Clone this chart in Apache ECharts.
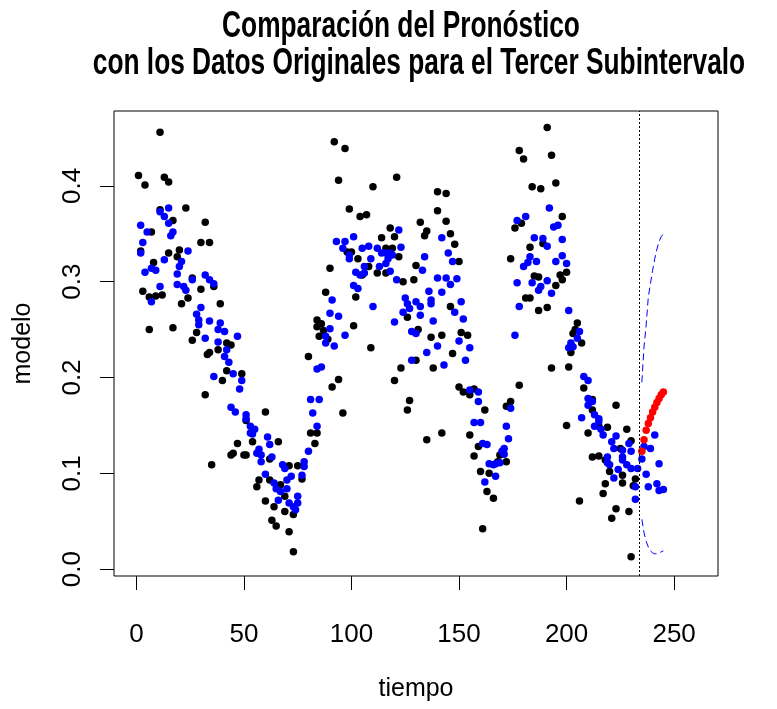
<!DOCTYPE html>
<html>
<head>
<meta charset="utf-8">
<script src="https://cdn.jsdelivr.net/npm/echarts@6/dist/echarts.min.js"></script>
<style>
  html, body { margin: 0; padding: 0; background: #fff; }
  #chart { width: 777px; height: 709px; }
</style>
</head>
<body>
<div id="chart"></div>
<script>
// Serie original observada: [tiempo, valor]
const observados = [
  [1,0.411],[2,0.332],[3,0.290],[4,0.401],[6,0.284],[6,0.250],[7,0.352],[8,0.320],[9,0.285],
  [11,0.456],[11,0.375],[12,0.286],[13,0.409],[15,0.404],[15,0.330],[17,0.364],[17,0.252],
  [19,0.326],[20,0.333],[21,0.277],[23,0.377],[24,0.283],[26,0.304],[26,0.239],[28,0.247],
  [30,0.292],[30,0.341],[32,0.182],[32,0.362],[33,0.224],[34,0.341],[34,0.226],[35,0.109],
  [36,0.295],[38,0.229],[39,0.277],[40,0.197],[42,0.236],[42,0.207],[44,0.119],[44,0.234],
  [45,0.121],[47,0.131],[49,0.204],[50,0.119],[51,0.155],[51,0.119],[54,0.133],[56,0.086],
  [57,0.093],[60,0.071],[60,0.164],[62,0.093],[62,0.115],[63,0.051],[64,0.065],[65,0.045],
  [66,0.133],[67,0.088],[69,0.076],[69,0.060],[71,0.039],[71,0.108],[73,0.018],[73,0.057],
  [75,0.108],[77,0.094],[80,0.222],[81,0.142],[83,0.131],[84,0.260],[84,0.142],[84,0.253],
  [85,0.243],[86,0.256],[87,0.249],[88,0.289],[89,0.240],[90,0.314],[91,0.190],[92,0.446],
  [94,0.198],[94,0.406],[96,0.163],[97,0.439],[98,0.331],[99,0.376],[100,0.331],[101,0.254],
  [102,0.284],[103,0.324],[104,0.368],[105,0.307],[107,0.370],[108,0.316],[109,0.231],
  [110,0.399],[112,0.309],[114,0.346],[116,0.335],[116,0.309],[118,0.356],[119,0.335],
  [120,0.197],[120,0.347],[121,0.409],[122,0.326],[123,0.210],[124,0.300],[126,0.263],
  [126,0.166],[127,0.176],[129,0.302],[130,0.218],[130,0.317],[131,0.250],[132,0.362],
  [134,0.348],[135,0.135],[135,0.353],[137,0.242],[138,0.210],[140,0.374],[140,0.394],
  [142,0.244],[142,0.142],[144,0.392],[144,0.363],[146,0.274],[146,0.350],[147,0.225],
  [148,0.339],[150,0.190],[150,0.321],[151,0.247],[152,0.185],[154,0.244],[155,0.140],
  [155,0.182],[157,0.118],[157,0.188],[159,0.128],[160,0.102],[161,0.042],[162,0.166],
  [163,0.081],[164,0.100],[166,0.074],[168,0.112],[169,0.119],[172,0.112],[172,0.170],
  [174,0.175],[174,0.324],[176,0.356],[178,0.192],[178,0.437],[179,0.361],[180,0.428],
  [181,0.283],[183,0.336],[183,0.283],[184,0.399],[185,0.306],[187,0.270],[187,0.305],
  [188,0.397],[189,0.340],[191,0.273],[191,0.461],[193,0.210],[193,0.432],[195,0.296],
  [195,0.403],[197,0.307],[198,0.368],[198,0.302],[200,0.150],[200,0.310],[201,0.211],
  [202,0.226],[203,0.246],[204,0.250],[205,0.257],[206,0.071],[207,0.236],[208,0.189],
  [210,0.142],[212,0.177],[212,0.117],[212,0.166],[215,0.149],[215,0.118],[217,0.079],
  [218,0.114],[218,0.089],[219,0.148],[220,0.102],[221,0.053],[223,0.063],[223,0.171],
  [225,0.126],[226,0.090],[226,0.098],[228,0.146],[229,0.060],[230,0.134],[230,0.013],
  [231,0.087],[232,0.094]
];

// Valores ajustados por el modelo: [tiempo, valor]
const ajustados = [
  [2,0.330],[2,0.359],[3,0.341],[4,0.310],[5,0.352],[7,0.314],[7,0.279],[9,0.312],[11,0.295],
  [11,0.373],[13,0.368],[13,0.323],[15,0.361],[15,0.377],[16,0.348],[17,0.352],[19,0.297],
  [19,0.308],[20,0.316],[21,0.321],[22,0.295],[23,0.291],[24,0.332],[26,0.302],[28,0.266],
  [29,0.255],[29,0.260],[30,0.273],[32,0.307],[32,0.241],[34,0.302],[34,0.259],[36,0.298],
  [36,0.201],[38,0.250],[38,0.237],[39,0.257],[41,0.248],[41,0.222],[42,0.229],[43,0.216],
  [44,0.169],[45,0.204],[46,0.164],[47,0.243],[48,0.188],[49,0.197],[51,0.161],[51,0.157],
  [53,0.142],[53,0.149],[54,0.141],[55,0.146],[56,0.121],[57,0.125],[58,0.119],[58,0.112],
  [60,0.099],[61,0.138],[62,0.130],[63,0.117],[64,0.090],[65,0.084],[66,0.072],[67,0.081],
  [68,0.109],[69,0.105],[70,0.093],[70,0.084],[71,0.069],[72,0.097],[73,0.065],[74,0.062],
  [75,0.069],[75,0.076],[77,0.098],[78,0.107],[78,0.112],[80,0.123],[81,0.177],[82,0.163],
  [84,0.149],[85,0.177],[84,0.209],[86,0.211],[88,0.243],[88,0.236],[92,0.233],[90,0.267],
  [90,0.251],[91,0.281],[93,0.342],[94,0.264],[96,0.335],[97,0.244],[97,0.342],[99,0.328],
  [99,0.324],[101,0.347],[101,0.296],[102,0.310],[103,0.293],[104,0.307],[105,0.335],
  [106,0.309],[106,0.316],[108,0.337],[109,0.324],[110,0.274],[112,0.335],[113,0.316],
  [114,0.330],[116,0.319],[116,0.330],[117,0.324],[118,0.311],[118,0.330],[119,0.328],
  [120,0.258],[121,0.302],[122,0.354],[123,0.336],[124,0.268],[125,0.283],[126,0.277],
  [127,0.272],[128,0.218],[128,0.248],[130,0.279],[130,0.246],[132,0.274],[132,0.265],
  [133,0.312],[134,0.326],[135,0.226],[136,0.290],[137,0.281],[137,0.277],[138,0.259],
  [140,0.233],[140,0.304],[142,0.346],[142,0.289],[143,0.213],[144,0.304],[145,0.330],
  [146,0.297],[147,0.321],[148,0.268],[149,0.303],[150,0.238],[151,0.279],[152,0.261],
  [153,0.218],[155,0.231],[155,0.187],[157,0.153],[159,0.185],[159,0.175],[160,0.153],
  [161,0.131],[162,0.091],[163,0.130],[164,0.110],[166,0.109],[167,0.110],[167,0.097],
  [169,0.111],[170,0.123],[171,0.120],[171,0.126],[172,0.149],[173,0.136],[174,0.168],
  [176,0.244],[177,0.299],[177,0.364],[178,0.274],[181,0.368],[180,0.316],[182,0.320],
  [183,0.326],[184,0.299],[185,0.346],[186,0.321],[187,0.291],[188,0.295],[189,0.345],
  [191,0.337],[191,0.301],[192,0.377],[193,0.288],[194,0.357],[195,0.321],[196,0.359],
  [198,0.327],[198,0.344],[200,0.319],[201,0.270],[201,0.231],[202,0.236],[203,0.232],
  [205,0.241],[206,0.248],[208,0.201],[210,0.197],[210,0.178],[212,0.175],[210,0.171],
  [207,0.158],[213,0.161],[215,0.157],[215,0.154],[213,0.149],[216,0.146],[217,0.140],
  [223,0.139],[221,0.133],[229,0.131],[222,0.126],[226,0.124],[230,0.123],[219,0.117],
  [219,0.111],[220,0.109],[226,0.117],[226,0.114],[228,0.109],[230,0.105],[224,0.104],
  [222,0.095],[232,0.086],[232,0.073],[233,0.105],[235,0.115],[236,0.128],[237,0.099],
  [238,0.086],[239,0.126],[241,0.140],[242,0.089],[243,0.110],[243,0.082],[245,0.083]
];

// Pronóstico y bandas de confianza
const tiempoPronostico = [235,236,237,238,239,240,241,242,243,244,245];
const pronostico = [0.123,0.135,0.145,0.152,0.158,0.164,0.169,0.174,0.178,0.182,0.185];
const bandaSuperior = [0.195,0.232,0.255,0.284,0.298,0.312,0.324,0.334,0.342,0.347,0.350];
const bandaInferior = [0.052,0.038,0.029,0.023,0.019,0.017,0.016,0.016,0.017,0.018,0.019];

// Fin de la serie utilizada para el ajuste
const corte = 234;

const ticksX = [0, 50, 100, 150, 200, 250];
const ticksY = [0, 0.1, 0.2, 0.3, 0.4];

const fuente = '"Liberation Sans", Arial, sans-serif';
const fuenteTitulo = 'bold 36px "Liberation Sans", Arial, sans-serif';

const chart = echarts.init(document.getElementById('chart'), null, { renderer: 'canvas' });

const zip = (xs, ys) => xs.map((x, i) => [x, ys[i]]);

const punto = color => ({ color: color, opacity: 1 });

chart.setOption({
  animation: false,
  backgroundColor: '#ffffff',
  grid: {
    left: 114, right: 59, top: 111, bottom: 133,
    show: true, borderColor: '#000', borderWidth: 1, backgroundColor: 'transparent'
  },
  graphic: [
    {
      type: 'text', x: 401, y: 9, scaleX: 0.73,
      style: { text: 'Comparación del Pronóstico', font: fuenteTitulo,
               fill: '#000', textAlign: 'center', textVerticalAlign: 'top' }
    },
    {
      type: 'text', x: 419, y: 46, scaleX: 0.73,
      style: { text: 'con los Datos Originales para el Tercer Subintervalo', font: fuenteTitulo,
               fill: '#000', textAlign: 'center', textVerticalAlign: 'top' }
    }
  ],
  xAxis: {
    type: 'value', min: -10.4, max: 270.4,
    splitLine: { show: false },
    axisLine: { show: false, onZero: false },
    axisTick: { show: true, inside: false, length: 14, customValues: ticksX, lineStyle: { color: '#000', width: 1 } },
    axisLabel: { customValues: ticksX, color: '#000', fontFamily: fuente, fontSize: 26, margin: 46,
                 formatter: v => String(v) },
    name: 'tiempo', nameLocation: 'middle', nameGap: 101,
    nameTextStyle: { color: '#000', fontFamily: fuente, fontSize: 25 }
  },
  yAxis: {
    type: 'value', min: -0.0072, max: 0.4782,
    splitLine: { show: false },
    axisLine: { show: false, onZero: false },
    axisTick: { show: true, inside: false, length: 14, customValues: ticksY, lineStyle: { color: '#000', width: 1 } },
    axisLabel: { customValues: ticksY, color: '#000', fontFamily: fuente, fontSize: 26, margin: 28, rotate: 90,
                 formatter: v => v.toFixed(1) },
    name: 'modelo', nameLocation: 'middle', nameGap: 78, nameRotate: 90,
    nameTextStyle: { color: '#000', fontFamily: fuente, fontSize: 25 }
  },
  series: [
    {
      name: 'observados', type: 'scatter', data: observados,
      symbol: 'circle', symbolSize: 7.5, itemStyle: punto('#000000')
    },
    {
      name: 'ajustados', type: 'scatter', data: ajustados,
      symbol: 'circle', symbolSize: 7.5, itemStyle: punto('#0000ff')
    },
    {
      name: 'superior', type: 'line', data: zip(tiempoPronostico, bandaSuperior),
      showSymbol: false, symbol: 'none', smooth: false,
      lineStyle: { color: '#0000ff', width: 1, type: [7, 4] }
    },
    {
      name: 'inferior', type: 'line', data: zip(tiempoPronostico, bandaInferior),
      showSymbol: false, symbol: 'none', smooth: false,
      lineStyle: { color: '#0000ff', width: 1, type: [7, 4] }
    },
    {
      name: 'pronostico', type: 'scatter', data: zip(tiempoPronostico, pronostico),
      symbol: 'circle', symbolSize: 7.5, itemStyle: punto('#ff0000'),
      markLine: {
        silent: true, symbol: 'none', label: { show: false },
        lineStyle: { color: '#000', width: 1, type: [2, 2] },
        data: [{ xAxis: corte }]
      }
    }
  ]
});
</script>
</body>
</html>
